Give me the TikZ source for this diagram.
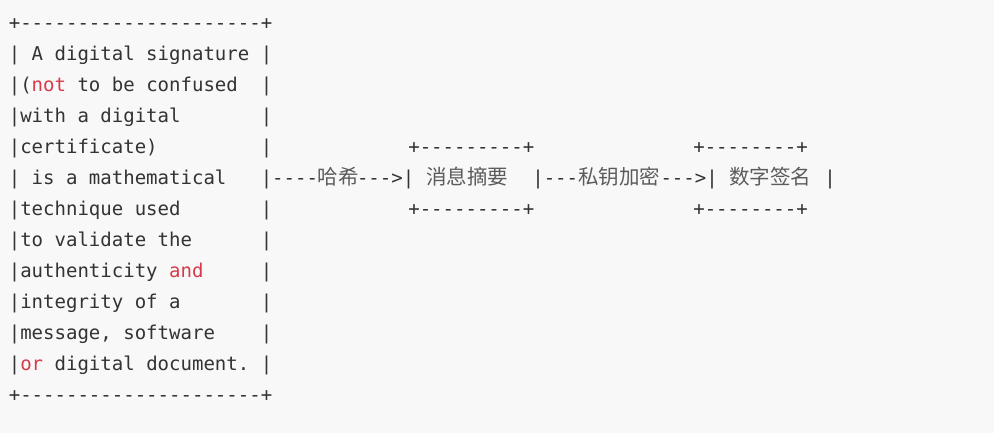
\documentclass[tikz,border=0pt]{standalone}
\usepackage{fontspec}
\setmonofont{DejaVu Sans Mono}
\newfontfamily\cjk{Noto Sans CJK SC}
\usetikzlibrary{positioning}
\definecolor{codebg}{HTML}{F8F8F8}
\definecolor{codetext}{HTML}{333333}
\definecolor{codekw}{HTML}{D73A49}
\definecolor{codecjk}{HTML}{5C5C5C}
\newcommand{\kw}[1]{\textcolor{codekw}{#1}}

\begin{document}
\begin{tikzpicture}[x=0.75pt, y=-0.75pt,
    asc/.style={anchor=base west, inner sep=0pt, outer sep=0pt, text=codetext, font=\ttfamily\fontsize{14.27}{17}\selectfont},
    hanzi/.style={anchor=base west, inner sep=0pt, outer sep=0pt, text=codecjk, font=\cjk\fontsize{15.4}{18}\selectfont},
]
\fill[codebg] (0,0) rectangle (994,433);

% left box, one node per line
\node[asc] (r0)  at (8.8,29)  {+---------------------+};
\node[asc] (r1)  at (8.8,60)  {|~A~digital~signature~|};
\node[asc] (r2)  at (8.8,91)  {|(\kw{not}~to~be~confused~~|};
\node[asc] (r3)  at (8.8,122) {|with~a~digital~~~~~~~|};
\node[asc] (r4)  at (8.8,153) {|certificate)~~~~~~~~~|};
\node[asc] (r5)  at (8.8,184) {|~is~a~mathematical~~~|----};
\node[asc] (r6)  at (8.8,215) {|technique~used~~~~~~~|};
\node[asc] (r7)  at (8.8,246) {|to~validate~the~~~~~~|};
\node[asc] (r8)  at (8.8,277) {|authenticity~\kw{and}~~~~~|};
\node[asc] (r9)  at (8.8,308) {|integrity~of~a~~~~~~~|};
\node[asc] (r10) at (8.8,339) {|message,~software~~~~|};
\node[asc] (r11) at (8.8,370) {|\kw{or}~digital~document.~|};
\node[asc] (r12) at (8.8,401) {+---------------------+};

% boxes on the right
\node[asc] (digtop) at (408.3,153) {+---------+};
\node[asc] (digbot) at (408.3,215) {+---------+};
\node[asc] (sigtop) at (693.3,153) {+--------+};
\node[asc] (sigbot) at (693.3,215) {+--------+};

% the arrow line
\node[hanzi] (hash)   at (317.5,184) {哈希};
\node[asc]   (hasharr) at (357,184)  {--->|};
\node[hanzi] (digest) at (426,184)   {消息摘要};
\node[asc]   (digend) at (532.3,184) {|---};
\node[hanzi] (enc)    at (578.1,184) {私钥加密};
\node[asc]   (encarr) at (660.5,184) {--->|};
\node[hanzi] (sig)    at (729,184)   {数字签名};
\node[asc]   (sigend) at (824.3,184) {|};
\end{tikzpicture}
\end{document}
